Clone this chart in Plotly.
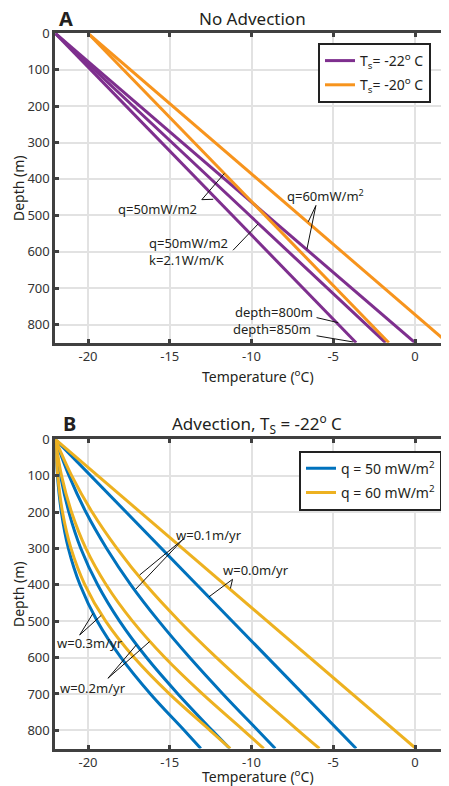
import plotly.graph_objects as go

# ---------------- Panel A : No advection (straight conductive profiles) ----------------
depth_A = [0, 850]
A_ts22_q50 = [-22.0, -3.6]          # Ts=-22, q=50 mW/m2
A_ts22_q50_k21 = [-22.0, -1.8]      # Ts=-22, q=50 mW/m2, k=2.1 W/m/K
A_ts22_q60 = [-22.0, 0.0]           # Ts=-22, q=60 mW/m2
A_ts20_q50 = [-20.0, -1.6]          # Ts=-20, q=50 mW/m2
A_ts20_q60 = [-20.0, 2.0]           # Ts=-20, q=60 mW/m2

# ---------------- Panel B : Advection, Ts=-22 ----------------
depth_B = [0, 100, 200, 300, 400, 500, 600, 700, 800, 850]
depth_B_w0 = [0, 850]
B_q50_w00 = [-22.0, -3.6]
B_q60_w00 = [-22.0, 0.05]
B_q50_w01 = [-22.0, -21.16, -20.13, -18.86, -17.38, -15.67, -13.78, -11.75, -9.62, -8.55]
B_q60_w01 = [-22.0, -21.00, -19.75, -18.23, -16.46, -14.41, -12.14, -9.70, -7.15, -5.85]
B_q50_w02 = [-22.0, -21.68, -21.17, -20.44, -19.41, -18.07, -16.42, -14.50, -12.41, -11.33]
B_q60_w02 = [-22.0, -21.62, -21.01, -20.13, -18.89, -17.28, -15.30, -13.00, -10.49, -9.25]
B_q50_w03 = [-22.0, -21.87, -21.63, -21.20, -20.49, -19.43, -17.98, -16.18, -14.12, -13.10]
B_q60_w03 = [-22.0, -21.85, -21.56, -21.04, -20.19, -18.92, -17.18, -15.02, -12.54, -11.30]

x_ticks = [-20, -15, -10, -5, 0]
x_ticktext = ['-20', '-15', '-10', '-5', '0']
y_ticks = [0, 100, 200, 300, 400, 500, 600, 700, 800]

PURPLE = '#7E2F8E'
ORANGE_A = '#F7941D'
BLUE = '#0072BD'
YELLOW = '#EDB120'
FONT = 'Noto Sans'
TXT = '#231F20'

# the page adds an 8px body margin, so the figure is drawn 8px smaller
OFF = 8
W, H = 449 - OFF, 786 - OFF
def px2x(px):
    return (px - OFF) / W
def py2y(py):
    return 1 - (py - OFF) / H

fig = go.Figure()

def add(x, y, color, name, show, xa, ya, leg, shape='linear'):
    fig.add_trace(go.Scatter(x=x, y=y, mode='lines', name=name, showlegend=show,
                             line=dict(color=color, width=3, shape=shape),
                             xaxis=xa, yaxis=ya, legend=leg, legendgroup=name + leg))

nmA1 = 'T<sub>s</sub>= -22<sup>o</sup> C'
nmA2 = 'T<sub>s</sub>= -20<sup>o</sup> C'
add(A_ts22_q50, depth_A, PURPLE, nmA1, True, 'x', 'y', 'legend')
add(A_ts22_q50_k21, depth_A, PURPLE, nmA1, False, 'x', 'y', 'legend')
add(A_ts22_q60, depth_A, PURPLE, nmA1, False, 'x', 'y', 'legend')
add(A_ts20_q50, depth_A, ORANGE_A, nmA2, True, 'x', 'y', 'legend')
add(A_ts20_q60, depth_A, ORANGE_A, nmA2, False, 'x', 'y', 'legend')

nmB1 = 'q = 50 mW/m<sup>2</sup>'
nmB2 = 'q = 60 mW/m<sup>2</sup>'
add(B_q50_w00, depth_B_w0, BLUE, nmB1, True, 'x2', 'y2', 'legend2')
add(B_q50_w01, depth_B, BLUE, nmB1, False, 'x2', 'y2', 'legend2', 'spline')
add(B_q50_w02, depth_B, BLUE, nmB1, False, 'x2', 'y2', 'legend2', 'spline')
add(B_q50_w03, depth_B, BLUE, nmB1, False, 'x2', 'y2', 'legend2', 'spline')
add(B_q60_w00, depth_B_w0, YELLOW, nmB2, True, 'x2', 'y2', 'legend2')
add(B_q60_w01, depth_B, YELLOW, nmB2, False, 'x2', 'y2', 'legend2', 'spline')
add(B_q60_w02, depth_B, YELLOW, nmB2, False, 'x2', 'y2', 'legend2', 'spline')
add(B_q60_w03, depth_B, YELLOW, nmB2, False, 'x2', 'y2', 'legend2', 'spline')

ax_common = dict(showline=True, linewidth=3, linecolor='#404040', mirror='ticks',
                 ticks='inside', ticklen=4, tickwidth=3, tickcolor='#404040',
                 showgrid=True, gridcolor='#e2e2e2', gridwidth=1.5, zeroline=False,
                 tickfont=dict(family=FONT, size=13, color='#333333'))

xdom = [px2x(55.3), px2x(447.7)]
leg_common = dict(xanchor='left', yanchor='top', bordercolor='#222222', borderwidth=2,
                  bgcolor='white', font=dict(family=FONT, size=14, color=TXT),
                  traceorder='grouped', tracegroupgap=3)
fig.update_layout(
    width=W, height=H, margin=dict(l=0, r=0, t=0, b=0, autoexpand=False),
    paper_bgcolor='white', plot_bgcolor='white',
    font=dict(family=FONT, color=TXT),
    xaxis=dict(domain=xdom, anchor='y', range=[-22, 2], tickvals=x_ticks, ticktext=x_ticktext, **ax_common),
    yaxis=dict(domain=[py2y(342.7), py2y(33.3)], anchor='x', range=[850, 0], tickvals=y_ticks, **ax_common),
    xaxis2=dict(domain=xdom, anchor='y2', range=[-22, 2], tickvals=x_ticks, ticktext=x_ticktext, **ax_common),
    yaxis2=dict(domain=[py2y(748.5), py2y(439.3)], anchor='x2', range=[850, 0], tickvals=y_ticks, **ax_common),
    legend=dict(x=px2x(318), y=py2y(43), **leg_common),
    legend2=dict(x=px2x(299), y=py2y(450.7), **leg_common),
)

def ptext(txt, px, py, size, bold=False, angle=0):
    fig.add_annotation(text=('<b>%s</b>' % txt) if bold else txt, x=px2x(px), y=py2y(py),
                       xref='paper', yref='paper', showarrow=False, textangle=angle,
                       font=dict(family=FONT, size=size, color=TXT), xanchor='center', yanchor='middle')

ptext('A', 66, 19, 20, bold=True)
ptext('No Advection', 252, 19, 17)
ptext('B', 69, 423, 20, bold=True)
ptext('Advection, T<sub>S</sub> = -22<sup>o</sup> C', 257, 424, 17)
ptext('Temperature (<sup>o</sup>C)', 258, 376, 14)
ptext('Temperature (<sup>o</sup>C)', 258, 776, 14)
ptext('Depth (m)', 18, 188, 14, angle=-90)
ptext('Depth (m)', 18, 594, 14, angle=-90)

# labels: (text, x, y, panel, xanchor)
labels = [
    ('q=50mW/m2', -15.75, 483, 'A', 'center'),
    ('q=60mW/m<sup>2</sup>', -5.45, 445, 'A', 'center'),
    ('q=50mW/m2<br>k=2.1W/m/K', -16.4, 600, 'A', 'left'),
    ('depth=800m', -8.65, 767, 'A', 'center'),
    ('depth=850m', -8.75, 813, 'A', 'center'),
    ('w=0.1m/yr', -12.6, 263, 'B', 'center'),
    ('w=0.0m/yr', -9.7, 359, 'B', 'center'),
    ('w=0.3m/yr', -19.85, 560, 'B', 'center'),
    ('w=0.2m/yr', -19.7, 685, 'B', 'center'),
]
for t, x, y, p, xa in labels:
    fig.add_annotation(text=t, x=x, y=y, xref='x' if p == 'A' else 'x2', yref='y' if p == 'A' else 'y2',
                       showarrow=False, xanchor=xa, yanchor='middle', align='left',
                       font=dict(family=FONT, size=13, color=TXT))

# pointer lines: (x0, y0, x1, y1, panel)
pointers = [
    (-13.04, 457, -11.66, 385, 'A'), (-13.04, 457, -12.34, 456, 'A'),
    (-6.06, 473, -6.53, 518, 'A'), (-6.06, 473, -6.61, 593, 'A'),
    (-11.13, 596, -9.6, 524, 'A'),
    (-6.02, 781, -4.70, 795, 'A'),
    (-6.02, 831, -3.78, 848, 'A'),
    (-14.19, 275, -16.84, 373, 'B'), (-14.19, 275, -17.08, 412, 'B'),
    (-11.16, 385, -12.6, 433, 'B'), (-11.16, 385, -11.29, 410, 'B'),
    (-20.51, 538, -19.70, 479, 'B'), (-20.51, 538, -19.19, 484, 'B'),
    (-18.78, 657, -17.04, 565, 'B'), (-18.78, 657, -16.23, 556, 'B'),
]
for x0, y0, x1, y1, p in pointers:
    fig.add_shape(type='line', x0=x0, y0=y0, x1=x1, y1=y1,
                  xref='x' if p == 'A' else 'x2', yref='y' if p == 'A' else 'y2',
                  line=dict(color='#111111', width=1))

fig.write_html('out.html')
